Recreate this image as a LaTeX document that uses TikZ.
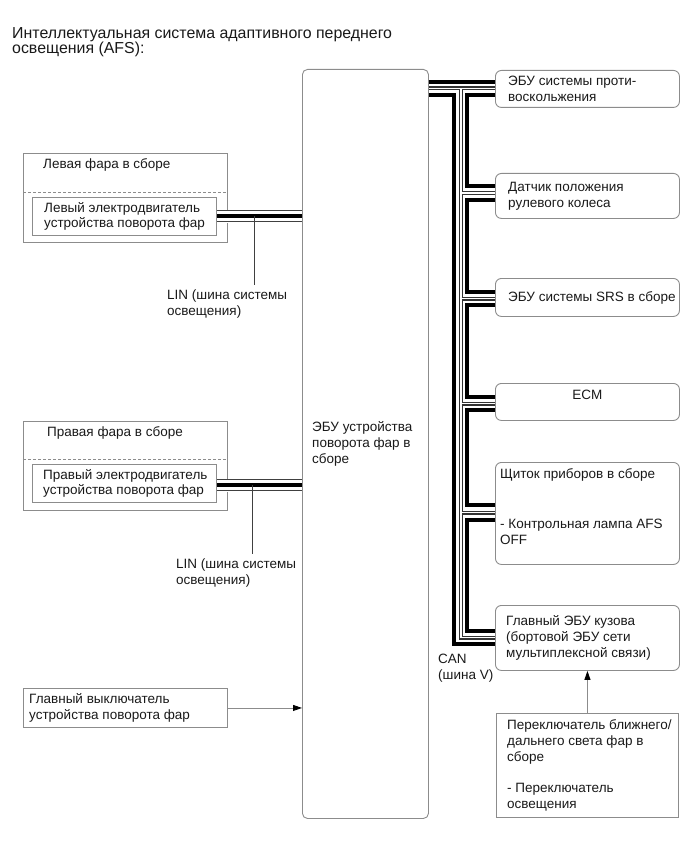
\documentclass[tikz,border=0pt]{standalone}
\usepackage{fontspec}
\setmainfont{Liberation Sans}
\usepackage{xcolor}
\usetikzlibrary{arrows.meta,positioning}
\definecolor{boxgray}{rgb}{0.55,0.55,0.55}
\definecolor{inkgray}{rgb}{0.10,0.10,0.10}
\newcommand{\afsfont}{\fontsize{13.5}{15.8}\selectfont}

\begin{document}
\begin{tikzpicture}[x=1pt, y=-1pt,
    box/.style={draw=boxgray, line width=0.9pt, inner sep=0pt, anchor=north west},
    rbox/.style={box, rounded corners=6pt},
    txt/.style={inner sep=0pt, align=left, font=\afsfont, text=inkgray},
    can/.style={line width=4pt, black},
    pair/.style={draw=black!80, line width=1.1pt, double=white, double distance=1.8pt},
    lead/.style={line width=0.9pt, black!75},
    arr/.style={-{Triangle[length=9pt, width=6pt, color=black]}, line width=0.9pt, draw=boxgray}
  ]
  \useasboundingbox (0,0) rectangle (690,853);

  \node[txt, anchor=north west, font=\fontsize{15.9}{15.5}\selectfont] (title) at (12,27) {Интеллектуальная система адаптивного переднего\\освещения (AFS):};

  \node[rbox, minimum width=126pt, minimum height=749pt, rounded corners=5pt] (ecu) at (302,69) {};
  \node[txt, right=10pt of ecu.west] (ecu-t) {ЭБУ устройства\\поворота фар в\\сборе};

  \node[box, minimum width=204pt, minimum height=89pt] (lhead) at (23,153) {};
  \node[txt, below right=5pt and 20pt of lhead.north west] (lhead-t) {Левая фара в сборе};
  \draw[boxgray, line width=0.8pt, dash pattern=on 3pt off 2pt] (lhead.west |- 0,192) -- (lhead.east |- 0,192);
  \node[box, minimum width=184pt, minimum height=38pt] (lmotor) at (32,197) {};
  \node[txt, right=12pt of lmotor.west] (lmotor-t) {Левый электродвигатель\\устройства поворота фар};

  \node[box, minimum width=204pt, minimum height=89pt] (rhead) at (23,421) {};
  \node[txt, below right=5pt and 24pt of rhead.north west] (rhead-t) {Правая фара в сборе};
  \draw[boxgray, line width=0.8pt, dash pattern=on 3pt off 2pt] (rhead.west |- 0,459) -- (rhead.east |- 0,459);
  \node[box, minimum width=184pt, minimum height=38pt] (rmotor) at (32,464) {};
  \node[txt, right=11pt of rmotor.west] (rmotor-t) {Правый электродвигатель\\устройства поворота фар};

  \node[box, minimum width=204pt, minimum height=39pt] (msw) at (23,688) {};
  \node[txt, right=6pt of msw.west] (msw-t) {Главный выключатель\\устройства поворота фар};
  \draw[arr] (msw.east) -- (msw.east -| ecu.west);

  \draw[white, line width=13pt, shorten <=0.6pt, shorten >=0.6pt] (lmotor.east |- 0,216) -- (ecu.west |- 0,216);
  \draw[lead] (lmotor.east |- 0,210.5) -- (ecu.west |- 0,210.5);
  \draw[lead] (lmotor.east |- 0,221.5) -- (ecu.west |- 0,221.5);
  \draw[can] (lmotor.east |- 0,216) -- (ecu.west |- 0,216);
  \node[txt, anchor=north west] (llin) at (167,290) {LIN (шина системы\\освещения)};
  \coordinate (ltap) at (254,216);
  \draw[lead, shorten >=5pt] (ltap) -- (ltap |- llin.north);

  \draw[white, line width=13pt, shorten <=0.6pt, shorten >=0.6pt] (rmotor.east |- 0,485) -- (ecu.west |- 0,485);
  \draw[lead] (rmotor.east |- 0,479.5) -- (ecu.west |- 0,479.5);
  \draw[lead] (rmotor.east |- 0,490.5) -- (ecu.west |- 0,490.5);
  \draw[can] (rmotor.east |- 0,485) -- (ecu.west |- 0,485);
  \node[txt, anchor=north west] (rlin) at (176,559) {LIN (шина системы\\освещения)};
  \coordinate (rtap) at (252,485);
  \draw[lead, shorten >=5pt] (rtap) -- (rtap |- rlin.north);

  \node[rbox, minimum width=184pt, minimum height=37pt] (abs) at (495,70) {};
  \node[txt, right=13pt of abs.west] (abs-t) {ЭБУ системы проти-\\воскольжения};
  \node[rbox, minimum width=184pt, minimum height=45pt] (steer) at (495,173) {};
  \node[txt, right=13pt of steer.west] (steer-t) {Датчик положения\\рулевого колеса};
  \node[rbox, minimum width=184pt, minimum height=38pt] (srs) at (495,278) {};
  \node[txt, right=13pt of srs.west] (srs-t) {ЭБУ системы SRS в сборе};
  \node[rbox, minimum width=184pt, minimum height=37pt] (ecm) at (495,383) {};
  \node[txt, below=7pt of ecm.north] (ecm-t) {ECM};
  \node[rbox, minimum width=184pt, minimum height=102pt] (meter) at (495,462) {};
  \node[txt, below right=6pt and 5pt of meter.north west] (meter-t) {Щиток приборов в сборе\\[35pt]- Контрольная лампа AFS\\OFF};
  \node[rbox, minimum width=184pt, minimum height=65pt] (body) at (495,605) {};
  \node[txt, right=11pt of body.west] (body-t) {Главный ЭБУ кузова\\(бортовой ЭБУ сети\\мультиплексной связи)};
  \node[box, minimum width=182pt, minimum height=104pt] (dimmer) at (496,713) {};
  \node[txt, right=11pt of dimmer.west] (dimmer-t) {Переключатель ближнего/\\дальнего света фар в\\сборе\\[15.8pt]- Переключатель\\освещения};
  \draw[arr] (dimmer.north) -- (dimmer.north |- body.south);

  \draw[can] (ecu.east |- 0,82) -- (abs.west |- 0,82);
  \draw[can] (ecu.east |- 0,95) -- (453.5,95) -- (453.5,644) -- (body.west |- 0,644);
  \draw[can] (abs.west |- 0,95) -- (467,95) -- (467,186) -- (steer.west |- 0,186);
  \draw[can] (steer.west |- 0,200) -- (467,200) -- (467,292) -- (srs.west |- 0,292);
  \draw[can] (srs.west |- 0,305) -- (467,305) -- (467,397) -- (ecm.west |- 0,397);
  \draw[can] (ecm.west |- 0,410) -- (467,410) -- (467,505) -- (meter.west |- 0,505);
  \draw[can] (meter.west |- 0,520) -- (467,520) -- (467,631) -- (body.west |- 0,631);
  \draw[pair] (ecu.east |- 0,88.5) -- (abs.west |- 0,88.5);
  \draw[pair] (461,89.4) -- (461,637.5) -- (body.west |- 0,637.5);
  \draw[pair] (461.9,193) -- (steer.west |- 0,193);
  \draw[pair] (461.9,298.5) -- (srs.west |- 0,298.5);
  \draw[pair] (461.9,403.5) -- (ecm.west |- 0,403.5);
  \draw[pair] (461.9,512.5) -- (meter.west |- 0,512.5);
  \node[txt, anchor=north west] (can-t) at (438,654) {CAN\\(шина V)};
\end{tikzpicture}
\end{document}
